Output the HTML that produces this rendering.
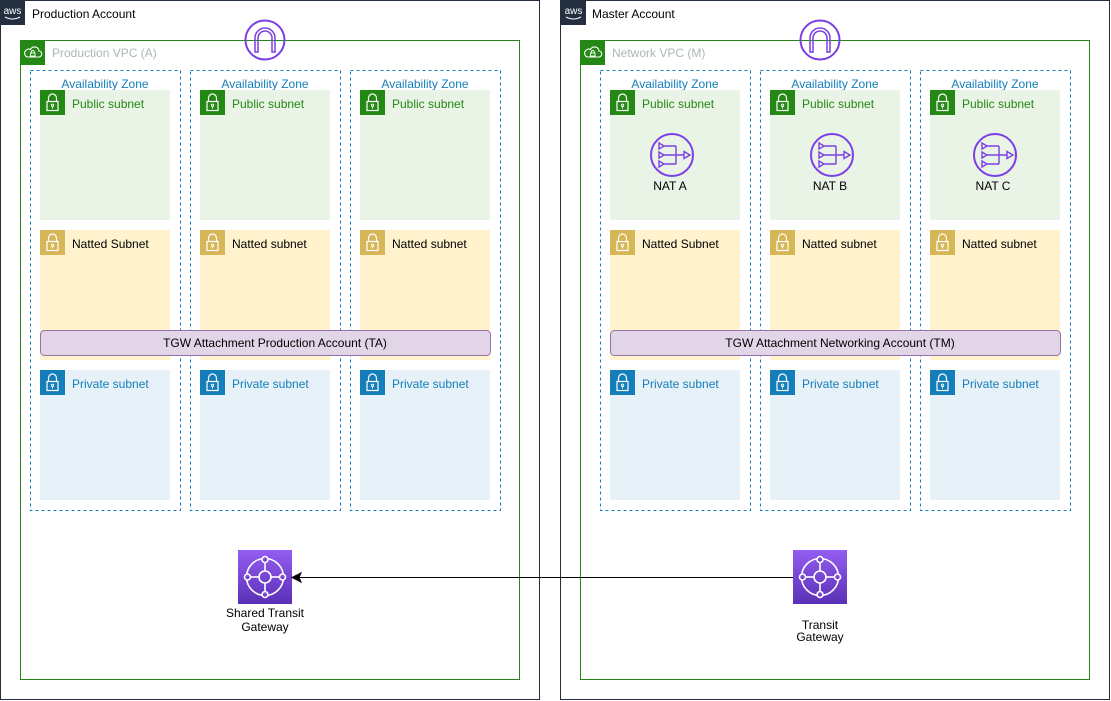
<!DOCTYPE html>
<html><head><meta charset="utf-8"><style>
html,body{margin:0;padding:0;background:#fff;}
svg{display:block;font-family:"Liberation Sans",Arial,sans-serif;font-size:12px;}
</style></head><body>
<svg width="1111" height="701" viewBox="0 0 1111 701" xmlns="http://www.w3.org/2000/svg">
<defs>
  <g id="lock">
    <path d="M8.5 11.5 v-3.5 a4 4 0 0 1 8 0 v3.5" fill="none" stroke="#fff" stroke-width="1.2"/>
    <rect x="7" y="11.5" width="11" height="9" fill="none" stroke="#fff" stroke-width="1.2"/>
    <circle cx="12.5" cy="15.3" r="1.2" fill="none" stroke="#fff" stroke-width="1"/>
    <line x1="12.5" y1="16.5" x2="12.5" y2="18.5" stroke="#fff" stroke-width="1"/>
  </g>
  <g id="awsicon">
    <rect x="0" y="0" width="25" height="25" fill="#232F3E"/>
    <text x="12.5" y="14" text-anchor="middle" fill="#fff" font-size="10" font-family="Liberation Sans, sans-serif">aws</text>
    <path d="M5 17 q7.5 4 15 0" fill="none" stroke="#fff" stroke-width="1"/>
  </g>
  <g id="vpcicon">
    <rect x="0" y="0" width="25" height="25" fill="#248814"/>
    <path d="M7 17 h11.5 a3 3 0 0 0 0.5 -6 a4.5 4.5 0 0 0 -8.5 -1.5 a3 3 0 0 0 -3.5 7.5z" fill="none" stroke="#fff" stroke-width="1.1"/>
    <rect x="10.5" y="13" width="4.5" height="3" fill="none" stroke="#fff" stroke-width="0.9"/>
    <path d="M11.3 13 v-1 a1.5 1.5 0 0 1 3 0 v1" fill="none" stroke="#fff" stroke-width="0.9"/>
  </g>
  <g id="igw">
    <circle cx="0" cy="0" r="19.5" fill="none" stroke="#7B3FE4" stroke-width="2"/>
    <path d="M-10 12 v-14 a10 10 0 0 1 20 0 v14 h-3 v-14 a7 7 0 0 0 -14 0 v14 z" fill="none" stroke="#7B3FE4" stroke-width="1.5"/>
  </g>
  <g id="nat">
    <circle cx="0" cy="0" r="21" fill="none" stroke="#7B3FE4" stroke-width="2"/>
    <path d="M-13 -12 l5 3 l-5 3 z M-13 -3 l5 3 l-5 3 z M-13 6 l5 3 l-5 3 z" fill="none" stroke="#7B3FE4" stroke-width="1.4"/>
    <path d="M-8 -9 h12 M-8 0 h12 M-8 9 h12 M4 -9 v18 M4 0 h8" fill="none" stroke="#7B3FE4" stroke-width="1.4"/>
    <path d="M12 -3.5 l6 3.5 l-6 3.5 z" fill="none" stroke="#7B3FE4" stroke-width="1.4"/>
  </g>
  <linearGradient id="tgwg" x1="0" y1="0" x2="0" y2="1">
    <stop offset="0" stop-color="#945DF2"/>
    <stop offset="1" stop-color="#5A30B5"/>
  </linearGradient>
  <g id="tgw">
    <rect x="0" y="0" width="54" height="54" fill="url(#tgwg)"/>
    <g fill="none" stroke="#fff" stroke-width="1.6">
      <circle cx="27" cy="27" r="18.5"/>
      <circle cx="27" cy="27" r="6"/>
      <line x1="27" y1="12.5" x2="27" y2="21"/>
      <line x1="27" y1="33" x2="27" y2="41.5"/>
      <line x1="12.5" y1="27" x2="21" y2="27"/>
      <line x1="33" y1="27" x2="41.5" y2="27"/>
      <circle cx="27" cy="9.5" r="3" fill="url(#tgwg)"/>
      <circle cx="27" cy="44.5" r="3" fill="url(#tgwg)"/>
      <circle cx="9.5" cy="27" r="3" fill="url(#tgwg)"/>
      <circle cx="44.5" cy="27" r="3" fill="url(#tgwg)"/>
    </g>
  </g>
</defs>

<!-- ================= PRODUCTION ACCOUNT ================= -->
<rect x="0.5" y="0.5" width="539" height="699" fill="none" stroke="#232F3E" stroke-width="1"/>
<use href="#awsicon" x="0" y="0"/>
<text x="32" y="18" fill="#000">Production Account</text>

<rect x="20.5" y="40.5" width="499" height="639" fill="none" stroke="#248814" stroke-width="1"/>
<use href="#vpcicon" x="20" y="40"/>
<text x="52" y="57" fill="#AAB7B8">Production VPC (A)</text>

<g fill="none" stroke="#147EBA" stroke-width="1" stroke-dasharray="3,3">
  <rect x="30.5" y="70.5" width="150" height="440"/>
  <rect x="190.5" y="70.5" width="150" height="440"/>
  <rect x="350.5" y="70.5" width="150" height="440"/>
</g>
<g fill="#147EBA" text-anchor="middle">
  <text x="105" y="88">Availability Zone</text>
  <text x="265" y="88">Availability Zone</text>
  <text x="425" y="88">Availability Zone</text>
</g>

<g fill="#E9F3E6">
  <rect x="40" y="90" width="130" height="130"/>
  <rect x="200" y="90" width="130" height="130"/>
  <rect x="360" y="90" width="130" height="130"/>
</g>
<g fill="#248814">
  <rect x="40" y="90" width="25" height="25"/>
  <rect x="200" y="90" width="25" height="25"/>
  <rect x="360" y="90" width="25" height="25"/>
</g>
<use href="#lock" x="40" y="90"/><use href="#lock" x="200" y="90"/><use href="#lock" x="360" y="90"/>
<g fill="#248814">
  <text x="72" y="108">Public subnet</text>
  <text x="232" y="108">Public subnet</text>
  <text x="392" y="108">Public subnet</text>
</g>

<g fill="#FFF2CC">
  <rect x="40" y="230" width="130" height="130"/>
  <rect x="200" y="230" width="130" height="130"/>
  <rect x="360" y="230" width="130" height="130"/>
</g>
<g fill="#D6B656">
  <rect x="40" y="230" width="25" height="25"/>
  <rect x="200" y="230" width="25" height="25"/>
  <rect x="360" y="230" width="25" height="25"/>
</g>
<use href="#lock" x="40" y="230"/><use href="#lock" x="200" y="230"/><use href="#lock" x="360" y="230"/>
<g fill="#000">
  <text x="72" y="248">Natted Subnet</text>
  <text x="232" y="248">Natted subnet</text>
  <text x="392" y="248">Natted subnet</text>
</g>

<g fill="#E6F2F8">
  <rect x="40" y="370" width="130" height="130"/>
  <rect x="200" y="370" width="130" height="130"/>
  <rect x="360" y="370" width="130" height="130"/>
</g>
<g fill="#147EBA">
  <rect x="40" y="370" width="25" height="25"/>
  <rect x="200" y="370" width="25" height="25"/>
  <rect x="360" y="370" width="25" height="25"/>
</g>
<use href="#lock" x="40" y="370"/><use href="#lock" x="200" y="370"/><use href="#lock" x="360" y="370"/>
<g fill="#147EBA">
  <text x="72" y="388">Private subnet</text>
  <text x="232" y="388">Private subnet</text>
  <text x="392" y="388">Private subnet</text>
</g>

<rect x="40.5" y="330.5" width="450" height="25" rx="4" ry="4" fill="#E1D5E7" stroke="#9673A6" stroke-width="1"/>
<text x="275" y="347" text-anchor="middle" fill="#000">TGW Attachment Production Account (TA)</text>

<use href="#igw" x="265" y="40"/>

<use href="#tgw" x="238" y="550"/>
<text x="265" y="617" text-anchor="middle" fill="#000">Shared Transit</text>
<text x="265" y="631" text-anchor="middle" fill="#000">Gateway</text>

<!-- ================= MASTER ACCOUNT ================= -->
<rect x="560.5" y="0.5" width="549" height="699" fill="none" stroke="#232F3E" stroke-width="1"/>
<use href="#awsicon" x="561" y="0"/>
<text x="592" y="18" fill="#000">Master Account</text>

<rect x="580.5" y="40.5" width="509" height="639" fill="none" stroke="#248814" stroke-width="1"/>
<use href="#vpcicon" x="580" y="40"/>
<text x="612" y="57" fill="#AAB7B8">Network VPC (M)</text>

<g fill="none" stroke="#147EBA" stroke-width="1" stroke-dasharray="3,3">
  <rect x="600.5" y="70.5" width="150" height="440"/>
  <rect x="760.5" y="70.5" width="150" height="440"/>
  <rect x="920.5" y="70.5" width="150" height="440"/>
</g>
<g fill="#147EBA" text-anchor="middle">
  <text x="675" y="88">Availability Zone</text>
  <text x="835" y="88">Availability Zone</text>
  <text x="995" y="88">Availability Zone</text>
</g>

<g fill="#E9F3E6">
  <rect x="610" y="90" width="130" height="130"/>
  <rect x="770" y="90" width="130" height="130"/>
  <rect x="930" y="90" width="130" height="130"/>
</g>
<g fill="#248814">
  <rect x="610" y="90" width="25" height="25"/>
  <rect x="770" y="90" width="25" height="25"/>
  <rect x="930" y="90" width="25" height="25"/>
</g>
<use href="#lock" x="610" y="90"/><use href="#lock" x="770" y="90"/><use href="#lock" x="930" y="90"/>
<g fill="#248814">
  <text x="642" y="108">Public subnet</text>
  <text x="802" y="108">Public subnet</text>
  <text x="962" y="108">Public subnet</text>
</g>

<use href="#nat" x="672" y="155"/>
<use href="#nat" x="832" y="155"/>
<use href="#nat" x="995" y="155"/>
<g fill="#000" text-anchor="middle">
  <text x="670" y="190">NAT A</text>
  <text x="830" y="190">NAT B</text>
  <text x="993" y="190">NAT C</text>
</g>

<g fill="#FFF2CC">
  <rect x="610" y="230" width="130" height="130"/>
  <rect x="770" y="230" width="130" height="130"/>
  <rect x="930" y="230" width="130" height="130"/>
</g>
<g fill="#D6B656">
  <rect x="610" y="230" width="25" height="25"/>
  <rect x="770" y="230" width="25" height="25"/>
  <rect x="930" y="230" width="25" height="25"/>
</g>
<use href="#lock" x="610" y="230"/><use href="#lock" x="770" y="230"/><use href="#lock" x="930" y="230"/>
<g fill="#000">
  <text x="642" y="248">Natted Subnet</text>
  <text x="802" y="248">Natted subnet</text>
  <text x="962" y="248">Natted subnet</text>
</g>

<g fill="#E6F2F8">
  <rect x="610" y="370" width="130" height="130"/>
  <rect x="770" y="370" width="130" height="130"/>
  <rect x="930" y="370" width="130" height="130"/>
</g>
<g fill="#147EBA">
  <rect x="610" y="370" width="25" height="25"/>
  <rect x="770" y="370" width="25" height="25"/>
  <rect x="930" y="370" width="25" height="25"/>
</g>
<use href="#lock" x="610" y="370"/><use href="#lock" x="770" y="370"/><use href="#lock" x="930" y="370"/>
<g fill="#147EBA">
  <text x="642" y="388">Private subnet</text>
  <text x="802" y="388">Private subnet</text>
  <text x="962" y="388">Private subnet</text>
</g>

<rect x="610.5" y="330.5" width="450" height="25" rx="4" ry="4" fill="#E1D5E7" stroke="#9673A6" stroke-width="1"/>
<text x="840" y="347" text-anchor="middle" fill="#000">TGW Attachment Networking Account (TM)</text>

<use href="#igw" x="820" y="40"/>

<use href="#tgw" x="793" y="550"/>
<text x="820" y="629" text-anchor="middle" fill="#000">Transit</text>
<text x="820" y="641" text-anchor="middle" fill="#000">Gateway</text>

<line x1="793" y1="577.5" x2="299" y2="577.5" stroke="#000" stroke-width="1"/>
<path d="M292 577.5 L301 573 L299 577.5 L301 582 Z" fill="#000" stroke="#000" stroke-width="1"/>
</svg>
</body></html>
